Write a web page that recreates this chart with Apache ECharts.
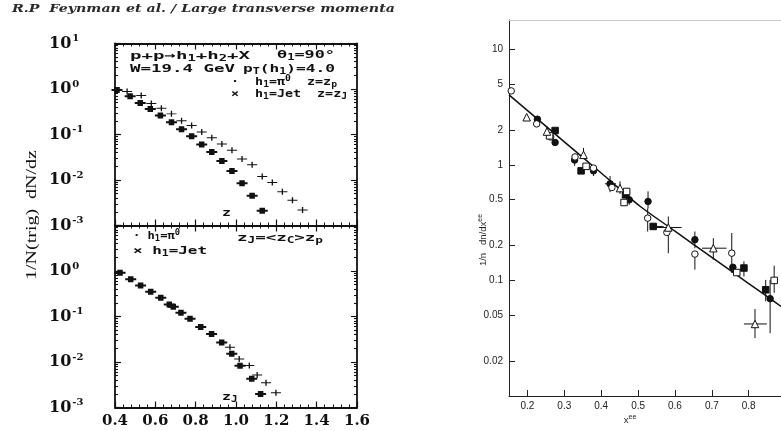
<!DOCTYPE html>
<html><head><meta charset="utf-8">
<script src="https://cdn.jsdelivr.net/npm/echarts@6/dist/echarts.min.js"></script>
<style>html,body{margin:0;padding:0;background:#fff}#c{width:781px;height:431px}</style>
</head><body><div id="c"></div>
<script>
// ---------- data: left figure (upper panel, z = z_p / z_J) ----------
const topZPi0 = [0.41,0.475,0.525,0.575,0.625,0.68,0.73,0.78,0.83,0.88,0.93,0.98,1.03,1.08,1.13];
const topPi0  = [0.95,0.69,0.49,0.365,0.26,0.186,0.13,0.092,0.060,0.041,0.026,0.0157,0.0085,0.0045,0.0021];
const topZJet = [0.46,0.53,0.58,0.63,0.68,0.73,0.78,0.83,0.88,0.93,0.98,1.03,1.08,1.13,1.18,1.23,1.28,1.33];
const topJet  = [0.885,0.72,0.48,0.376,0.284,0.20,0.157,0.113,0.085,0.062,0.045,0.029,0.0217,0.0119,0.0088,0.0055,0.0036,0.0022];
// ---------- data: left figure (lower panel, z_J) ----------
const botZPi0 = [0.425,0.478,0.527,0.577,0.627,0.669,0.689,0.727,0.772,0.825,0.879,0.929,0.979,1.02,1.078,1.122];
const botPi0  = [0.92,0.656,0.483,0.351,0.259,0.184,0.164,0.121,0.089,0.059,0.041,0.0267,0.0152,0.0083,0.0043,0.00197];
const botZJet = [0.97,1.016,1.066,1.105,1.149,1.198];
const botJet  = [0.021,0.0116,0.0084,0.0052,0.0035,0.0021];
// ---------- data: right figure (1/n dn/dx_ee vs x_ee) ----------
const fitX = [0.15,0.30,0.40,0.506,0.60,0.70,0.80,0.8875];
const fitY = [4.03,1.58,0.85,0.436,0.267,0.158,0.094,0.0596];
const openCircleX = [0.156,0.225,0.263,0.329,0.379,0.429,0.526,0.578,0.654,0.754];
const openCircleY = [4.36,2.26,1.74,1.17,0.937,0.637,0.346,0.26,0.169,0.172];
const filledCircleX = [0.227,0.275,0.328,0.379,0.424,0.476,0.527,0.654,0.757,0.858];
const filledCircleY = [2.48,1.56,1.10,0.887,0.685,0.498,0.482,0.225,0.13,0.0695];
const filledSquareX = [0.275,0.3455,0.466,0.541,0.787,0.846];
const filledSquareY = [1.98,0.887,0.55,0.293,0.128,0.083];
const openSquareX = [0.260,0.359,0.469,0.462,0.7675,0.869];
const openSquareY = [1.78,0.97,0.588,0.472,0.117,0.100];
const openTriangleX = [0.198,0.253,0.352,0.451,0.582,0.704,0.817];
const openTriangleY = [2.58,1.94,1.22,0.629,0.287,0.19,0.042];
// vertical error bars: x, low, high
const vErrX  = [0.527,0.526,0.582,0.654,0.654,0.704,0.754,0.787,0.869,0.846,0.858,0.817,0.253,0.328,0.352,0.379,0.424,0.451,0.476];
const vErrLo = [0.42,0.265,0.172,0.19,0.124,0.151,0.116,0.108,0.078,0.066,0.035,0.0317,1.80,0.98,1.22,0.80,0.58,0.56,0.45];
const vErrHi = [0.59,0.42,0.357,0.265,0.169,0.232,0.257,0.146,0.134,0.101,0.101,0.0565,2.15,1.10,1.40,0.95,0.80,0.72,0.60];
// horizontal error bars: y, x low, x high
const hErrY  = [0.287,0.293,0.19,0.042,0.685];
const hErrLo = [0.541,0.533,0.673,0.787,0.41];
const hErrHi = [0.618,0.569,0.740,0.849,0.44];
// tick labels
const leftXTickLabels = ['0.4','0.6','0.8','1.0','1.2','1.4','1.6'];
const rightYTicks = [0.02,0.05,0.1,0.2,0.5,1,2,5,10];
const rightYTickLabels = ['0.02','0.05','0.1','0.2','0.5','1','2','5','10'];
const rightXTicks = [0.2,0.3,0.4,0.5,0.6,0.7,0.8];
const rightXTickLabels = ['0.2','0.3','0.4','0.5','0.6','0.7','0.8'];

const zip = (a,b) => a.map((v,i)=>[v,b[i]]);
const INK = '#111';

// ---------- helpers ----------
const mctx = document.createElement('canvas').getContext('2d');
function richWidth(str, fonts){
  let w = 0;
  str.replace(/\{(\w+)\|([^}]*)\}/g,(m,t,c)=>{ mctx.font = fonts[t]; w += mctx.measureText(c).width; return m; });
  return w;
}
const MONO = 'DejaVu Sans Mono';
const annFonts = {n:'bold 11px "'+MONO+'"', b:'bold 8px "'+MONO+'"', p:'bold 8px "'+MONO+'"'};
const annRich = {
  n:{fontFamily:MONO,fontWeight:'bold',fontSize:11,fill:INK,color:INK},
  b:{fontFamily:MONO,fontWeight:'bold',fontSize:8,fill:INK,color:INK,padding:[6,0,0,0]},
  p:{fontFamily:MONO,fontWeight:'bold',fontSize:8,fill:INK,color:INK,padding:[0,0,6,0]}
};
function ann(x, y, str, targetW){
  const w = richWidth(str, annFonts);
  const sx = targetW ? targetW / w : 1.35;
  return {type:'text', x:x, y:y, scaleX:sx, z:50,
    style:{text:str, rich:annRich, fill:INK, align:'left', verticalAlign:'middle', textAlign:'left', textVerticalAlign:'middle'}};
}
function plainText(x, y, text, font, targetW, opts){
  mctx.font = font;
  const w = mctx.measureText(text).width;
  return Object.assign({type:'text', x:x, y:y, scaleX: targetW ? targetW/w : 1, z:50,
    style:{text:text, font:font, fill:INK, align:'left', verticalAlign:'middle', textAlign:'left', textVerticalAlign:'middle'}}, opts||{});
}

// ---------- axes ----------
const minorLogs = [];
for (let d=-3; d<=0; d++) for (let m=2; m<=9; m++) minorLogs.push(d + Math.log10(m));
const majorLogs = [-3,-2,-1,0,1];

function logDataAxis(grid, hideTop){
  return {type:'log', logBase:10, gridIndex:grid, min:0.001, max:10, position:'left',
    axisLine:{show:true, onZero:false, lineStyle:{color:INK, width:1.8}},
    axisTick:{show:true, inside:true, length:6, lineStyle:{color:INK, width:1.2}},
    minorTick:{show:false}, splitLine:{show:false},
    axisLabel:{show:true, align:'left', margin:66,
      formatter:v=>{const e=Math.round(Math.log10(v)); if(hideTop && e===1) return ''; return '{b|10}{s|'+e+'}';},
      rich:{b:{fontFamily:'DejaVu Serif',fontWeight:'bold',fontSize:16,color:INK},
            s:{fontFamily:'DejaVu Serif',fontWeight:'bold',fontSize:10,color:INK,padding:[0,0,10,1]}}}};
}
function decoY(grid, pos, vals, len, line){
  return {type:'value', gridIndex:grid, position:pos, min:-3, max:1,
    axisLine:{show:line, onZero:false, lineStyle:{color:INK, width:1.8}},
    axisTick:{show:true, inside:true, length:len, customValues:vals, lineStyle:{color:INK, width:1.1}},
    axisLabel:{show:false}, splitLine:{show:false}, minorTick:{show:false}};
}
function leftX(grid, pos, labels){
  return {type:'value', gridIndex:grid, position:pos, min:0.4, max:1.6, interval:0.2,
    axisLine:{show:true, onZero:false, lineStyle:{color:INK, width:1.8}},
    axisTick:{show:true, inside:true, length:6, lineStyle:{color:INK, width:1.2}},
    minorTick:{show:true, splitNumber:5, length:3, lineStyle:{color:INK, width:1}},
    splitLine:{show:false},
    axisLabel:{show:labels, margin:6, fontFamily:'DejaVu Serif', fontWeight:'bold', fontSize:15, color:INK,
      formatter:v=>{const i=Math.round((v-0.4)/0.2); return leftXTickLabels[i]||'';}}};
}

const xAxis = [
  leftX(0,'bottom',false),
  leftX(0,'top',false),
  leftX(1,'bottom',true),
  leftX(1,'top',false),
  {type:'value', gridIndex:2, position:'bottom', min:0.15, max:0.8875,
   axisLine:{show:true, onZero:false, lineStyle:{color:'#222', width:1}},
   axisTick:{show:true, inside:true, length:6, customValues:rightXTicks, lineStyle:{color:'#222', width:1}},
   axisLabel:{show:true, customValues:rightXTicks, margin:5, fontFamily:'Liberation Sans', fontSize:10, color:'#222',
     formatter:v=>{let bi=0,bd=1e9; rightXTicks.forEach((t,i)=>{const d=Math.abs(t-v); if(d<bd){bd=d;bi=i;}}); return rightXTickLabels[bi];}},
   splitLine:{show:false}, minorTick:{show:false}},
  {type:'value', gridIndex:2, position:'top', min:0.15, max:0.8875,
   axisLine:{show:true, onZero:false, lineStyle:{color:'#c8c8c8', width:1}}, axisTick:{show:false}, axisLabel:{show:false}, splitLine:{show:false}}
];

const rightYLogs = rightYTicks.map(v=>Math.log10(v));
const yAxis = [
  logDataAxis(0,false),
  decoY(0,'left',minorLogs,3,false),
  decoY(0,'right',majorLogs,6,true),
  decoY(0,'right',minorLogs,3,false),
  logDataAxis(1,true),
  decoY(1,'left',minorLogs,3,false),
  decoY(1,'right',majorLogs,6,true),
  decoY(1,'right',minorLogs,3,false),
  {type:'log', logBase:10, gridIndex:2, min:0.01, max:17.9, show:false, axisLine:{onZero:false}},
  {type:'value', gridIndex:2, position:'left', min:-2, max:Math.log10(17.9),
   axisLine:{show:true, onZero:false, lineStyle:{color:'#222', width:1}},
   axisTick:{show:true, inside:true, length:6, customValues:rightYLogs, lineStyle:{color:'#222', width:1}},
   axisLabel:{show:true, customValues:rightYLogs, margin:6, fontFamily:'Liberation Sans', fontSize:10, color:'#222',
     formatter:v=>{let bi=0,bd=1e9; rightYLogs.forEach((t,i)=>{const d=Math.abs(t-v); if(d<bd){bd=d;bi=i;}}); return rightYTickLabels[bi];}},
   splitLine:{show:false}, minorTick:{show:false}}
];

// ---------- series ----------
const PI0_SYM = 'path://M0,3 L12,3 L12,5 L0,5 Z M3,1 L9,1 L9,7 L3,7 Z';
const JET_SYM = 'path://M0,4.2 L12,4.2 L12,5.8 L0,5.8 Z M5.2,0 L6.8,0 L6.8,10 L5.2,10 Z';
function leftSeries(xi, yi, data, sym, size){
  return {type:'scatter', xAxisIndex:xi, yAxisIndex:yi, data:data, symbol:sym, symbolSize:size,
    itemStyle:{color:INK, opacity:1}, silent:true, z:5};
}
function rightScatter(xs, ys, sym, filled){
  return {type:'scatter', xAxisIndex:4, yAxisIndex:8, data:zip(xs,ys), symbol:sym, symbolSize:sym==='triangle'?7.5:6.5,
    itemStyle:{color:filled?INK:'#fff', borderColor:INK, borderWidth:1, opacity:1}, silent:true, z:6};
}
const vErrData = vErrX.map((x,i)=>[x, vErrLo[i], vErrHi[i]]);
const hErrData = hErrY.map((y,i)=>[hErrLo[i], y, hErrHi[i]]);

const series = [
  leftSeries(0,0,zip(topZPi0,topPi0),PI0_SYM,[11,6]),
  leftSeries(0,0,zip(topZJet,topJet),JET_SYM,[10,6]),
  leftSeries(2,4,zip(botZPi0,botPi0),PI0_SYM,[11,6]),
  leftSeries(2,4,zip(botZJet,botJet),JET_SYM,[10,6]),
  {type:'line', xAxisIndex:4, yAxisIndex:8, data:zip(fitX,fitY), smooth:0.2, symbol:'none',
   lineStyle:{color:INK, width:1.5}, silent:true, z:3},
  {type:'custom', xAxisIndex:4, yAxisIndex:8, data:vErrData, silent:true, z:4,
   renderItem:(params, api)=>{
     const a = api.coord([api.value(0), api.value(1)]);
     const b = api.coord([api.value(0), api.value(2)]);
     return {type:'line', shape:{x1:a[0],y1:a[1],x2:b[0],y2:b[1]}, style:{stroke:INK, lineWidth:1}};
   }},
  {type:'custom', xAxisIndex:4, yAxisIndex:8, data:hErrData, silent:true, z:4,
   renderItem:(params, api)=>{
     const a = api.coord([api.value(0), api.value(1)]);
     const b = api.coord([api.value(2), api.value(1)]);
     return {type:'line', shape:{x1:a[0],y1:a[1],x2:b[0],y2:b[1]}, style:{stroke:INK, lineWidth:1}};
   }},
  rightScatter(filledCircleX, filledCircleY, 'circle', true),
  rightScatter(filledSquareX, filledSquareY, 'rect', true),
  rightScatter(openCircleX, openCircleY, 'circle', false),
  rightScatter(openSquareX, openSquareY, 'rect', false),
  rightScatter(openTriangleX, openTriangleY, 'triangle', false)
];

// ---------- texts ----------
const headerFont = 'bold italic 11.5px "DejaVu Serif"';
const graphic = [
  plainText(12, 9, 'R.P  Feynman et al. / Large transverse momenta', headerFont, 383, {style:{text:'R.P  Feynman et al. / Large transverse momenta', font:headerFont, fill:'#2a2a2a', align:'left', verticalAlign:'middle', textAlign:'left', textVerticalAlign:'middle'}}),
  (function(){ const f='15px "Liberation Serif"'; mctx.font=f; const w=mctx.measureText('1/N(trig)  dN/dz').width;
    return {type:'text', x:32, y:215, rotation:Math.PI/2, scaleX:130/w, z:50,
      style:{text:'1/N(trig)  dN/dz', font:f, fill:INK, align:'center', verticalAlign:'middle', textAlign:'center', textVerticalAlign:'middle'}}; })(),
  ann(130, 56, '{n|p+p→h}{b|1}{n|+h}{b|2}{n|+X}', 120),
  ann(277, 55, '{n|θ}{b|1}{n|=90°}', 58),
  ann(130, 69, '{n|W=19.4 GeV}', 105),
  ann(243, 69, '{n|p}{b|T}{n|(h}{b|1}{n|)=4.0}', 92),
  ann(231, 82, '{n|·  h}{b|1}{n|=π}{p|0}{n|  z=z}{b|p}', 106),
  ann(231, 94, '{n|×  h}{b|1}{n|=Jet  z=z}{b|J}', 116),
  ann(222, 213, '{n|z}', null),
  ann(133, 236, '{n|· h}{b|1}{n|=π}{p|0}', 47),
  ann(237, 238, '{n|z}{b|J}{n|=<z}{b|C}{n|>z}{b|p}', 86),
  ann(133, 251, '{n|× h}{b|1}{n|=Jet}', 74),
  ann(222, 397, '{n|z}{b|J}', null),
  {type:'text', x:483, y:240, rotation:Math.PI/2, z:50,
   style:{text:'{a|1/n   dn/dx}{s|ee}', fill:'#222', align:'center', verticalAlign:'middle', textAlign:'center', textVerticalAlign:'middle',
     rich:{a:{fontFamily:'Liberation Sans',fontSize:9.5,fill:'#222',color:'#222'}, s:{fontFamily:'Liberation Sans',fontSize:7,fill:'#222',color:'#222',padding:[0,0,6,0]}}}},
  {type:'text', x:630, y:420, z:50,
   style:{text:'{a|x}{s|ee}', fill:'#222', align:'center', verticalAlign:'middle', textAlign:'center', textVerticalAlign:'middle',
     rich:{a:{fontFamily:'Liberation Sans',fontSize:9.5,fill:'#222',color:'#222'}, s:{fontFamily:'Liberation Sans',fontSize:7,fill:'#222',color:'#222',padding:[0,0,6,0]}}}}
];

const chart = echarts.init(document.getElementById('c'), null, {renderer:'canvas'});
chart.setOption({
  animation:false,
  backgroundColor:'#fff',
  grid:[
    {left:115, top:43.5, width:242, height:182, outerBoundsMode:'none', containLabel:false},
    {left:115, top:225.5, width:242, height:182, outerBoundsMode:'none', containLabel:false},
    {left:509, top:20, right:0, height:376, outerBoundsMode:'none', containLabel:false}
  ],
  xAxis: xAxis,
  yAxis: yAxis,
  series: series,
  graphic: graphic
});
</script></body></html>
